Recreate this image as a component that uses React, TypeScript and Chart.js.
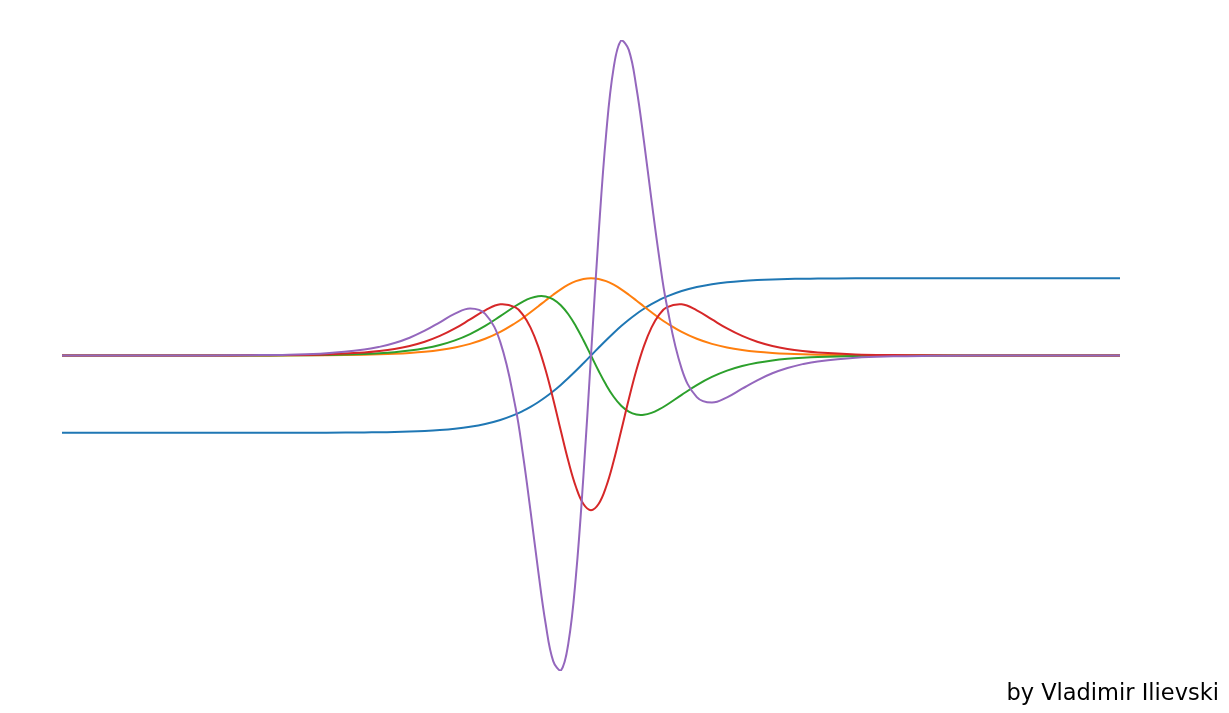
import React, { useEffect, useRef } from "react";
import { Chart, registerables } from "chart.js";

Chart.register(...registerables);

// x positions (non-negative half), mirrored below
const xPos = [0, 0.1, 0.2, 0.3, 0.4, 0.5, 0.6, 0.7, 0.8, 0.9, 1.0, 1.2, 1.4, 1.6, 1.8, 2.0, 2.2, 2.4, 2.6, 2.8, 3.0, 3.5, 4, 4.5, 5, 6, 7];
// values read at x >= 0
const bluePos = [0, 0.0997, 0.1974, 0.2913, 0.38, 0.4621, 0.5371, 0.6044, 0.664, 0.7163, 0.7616, 0.8337, 0.8854, 0.9217, 0.9468, 0.964, 0.9757, 0.9837, 0.989, 0.9926, 0.9951, 0.9982, 0.9993, 0.9998, 0.9999, 1, 1];
const orangePos = [1, 0.9901, 0.961, 0.9151, 0.8556, 0.7864, 0.7116, 0.6347, 0.5591, 0.4869, 0.42, 0.305, 0.2162, 0.1505, 0.1036, 0.0707, 0.0479, 0.0324, 0.0218, 0.0147, 0.0099, 0.0036, 0.0013, 0.0005, 0.0002, 0, 0];
const greenPos = [0, -0.1974, -0.3794, -0.5332, -0.6502, -0.7269, -0.7643, -0.7672, -0.7425, -0.6976, -0.6397, -0.5086, -0.3827, -0.2775, -0.1961, -0.1362, -0.0935, -0.0637, -0.0432, -0.0292, -0.0196, -0.0073, -0.0027, -0.001, -0.0004, 0, 0];
const redPos = [-2, -1.9211, -1.6974, -1.3643, -0.9702, -0.5652, -0.1918, 0.1216, 0.361, 0.5252, 0.6216, 0.6619, 0.5843, 0.4661, 0.3499, 0.2527, 0.1779, 0.1233, 0.0844, 0.0575, 0.0389, 0.0145, 0.0054, 0.002, 0.0007, 0.0001, 0];
const purplePos = [0, 1.5554, 2.8577, 3.7226, 4.0752, 3.9523, 3.4692, 2.775, 2.011, 1.2855, 0.6651, -0.1728, -0.5382, -0.6087, -0.5407, -0.4294, -0.3203, -0.2301, -0.1613, -0.1115, -0.0762, -0.0288, -0.0107, -0.004, -0.0015, -0.0002, 0];

const caption = "by Vladimir Ilievski";
const colors = ["#1f77b4", "#ff7f0e", "#2ca02c", "#d62728", "#9467bd"];

function mirror(vals: number[], odd: boolean) {
  const pts: { x: number; y: number }[] = [];
  for (let i = xPos.length - 1; i > 0; i--) {
    pts.push({ x: -xPos[i], y: odd ? -vals[i] : vals[i] });
  }
  for (let i = 0; i < xPos.length; i++) pts.push({ x: xPos[i], y: vals[i] });
  return pts;
}

export default function App() {
  const ref = useRef<HTMLCanvasElement>(null);
  useEffect(() => {
    if (!ref.current) return;
    const series = [
      mirror(bluePos, true),
      mirror(orangePos, false),
      mirror(greenPos, true),
      mirror(redPos, false),
      mirror(purplePos, true),
    ];
    const chart = new Chart(ref.current, {
      type: "line",
      data: {
        datasets: series.map((d, i) => ({
          data: d,
          borderColor: colors[i],
          borderWidth: 2,
          pointRadius: 0,
          tension: 0.4,
          fill: false,
          order: 5 - i,
        })),
      },
      options: {
        animation: false,
        responsive: false,
        maintainAspectRatio: false,
        layout: { padding: { left: 62, right: 109, top: 40, bottom: 42 } },
        plugins: { legend: { display: false }, tooltip: { enabled: false } },
        scales: {
          x: { type: "linear", min: -7, max: 7, display: false },
          y: { type: "linear", min: -4.08, max: 4.08, display: false },
        },
      },
    });
    return () => chart.destroy();
  }, []);
  return (
    <div style={{ position: "fixed", left: 0, top: 0, width: 1229, height: 713, background: "#fff" }}>
      <canvas ref={ref} width={1229} height={713} style={{ display: "block" }} />
      <div
        style={{
          position: "absolute",
          right: 10,
          top: 679,
          fontFamily: "'DejaVu Sans', sans-serif",
          fontSize: 22.5,
          lineHeight: "26px",
          color: "#000",
          whiteSpace: "nowrap",
        }}
      >
        {caption}
      </div>
    </div>
  );
}
